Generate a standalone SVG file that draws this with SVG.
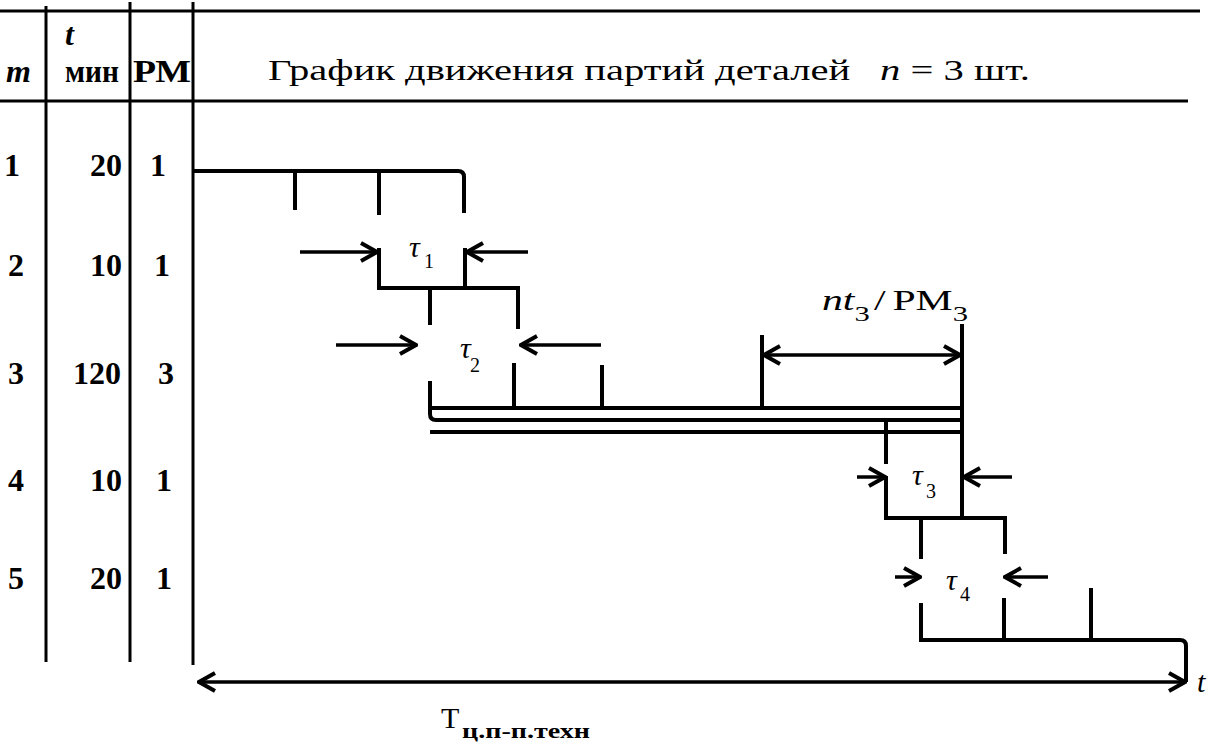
<svg xmlns="http://www.w3.org/2000/svg" width="1211" height="743" viewBox="0 0 1211 743">
<style>
.ln{fill:none;stroke:#000;stroke-width:4;stroke-linecap:square}
.tl{fill:none;stroke:#000;stroke-width:3}
.ar{fill:none;stroke:#000;stroke-width:3.5}
.num{font-family:"Liberation Serif",serif;font-weight:bold;font-size:32px;fill:#000}
.tx{font-family:"Liberation Serif",serif;font-size:30px;fill:#000}
.it{font-style:italic}
.sub{font-family:"Liberation Serif",serif;font-size:20px;fill:#000}
</style>
<defs>
<marker id="ah" viewBox="0 0 22 22" refX="20" refY="11" markerWidth="22" markerHeight="22" markerUnits="userSpaceOnUse" orient="auto-start-reverse">
<path d="M4,2 L20,11 L4,20" fill="none" stroke="#000" stroke-width="4" stroke-linejoin="miter"/>
</marker>
</defs>
<rect width="1211" height="743" fill="#fff"/>
<g id="table">
<path class="tl" d="M0,11 H1200 M0,101 H1188"/>
<path class="tl" d="M46,6 V662 M130,2 V662 M193,2 V665"/>
<text class="num it" x="6" y="82" font-size="32">m</text>
<text class="num it" x="65" y="45" font-size="30">t</text>
<text class="num" x="65" y="82" font-size="24" textLength="54" lengthAdjust="spacingAndGlyphs">мин</text>
<text class="num" x="133" y="82" font-size="26" textLength="58" lengthAdjust="spacingAndGlyphs">РМ</text>
<text class="tx" x="268" y="80" font-size="33" textLength="762" lengthAdjust="spacingAndGlyphs">График движения партий деталей<tspan class="it" dx="22">n</tspan> = 3 шт.</text>
</g>
<g id="rows" class="num">
<text x="12" y="176" text-anchor="middle">1</text>
<text x="122" y="176" text-anchor="end">20</text>
<text x="158" y="176" text-anchor="middle">1</text>
<text x="16" y="276" text-anchor="middle">2</text>
<text x="122" y="276" text-anchor="end">10</text>
<text x="162" y="276" text-anchor="middle">1</text>
<text x="16" y="384" text-anchor="middle">3</text>
<text x="121" y="384" text-anchor="end">120</text>
<text x="166" y="384" text-anchor="middle">3</text>
<text x="16" y="491" text-anchor="middle">4</text>
<text x="122" y="491" text-anchor="end">10</text>
<text x="164" y="491" text-anchor="middle">1</text>
<text x="16" y="589" text-anchor="middle">5</text>
<text x="122" y="589" text-anchor="end">20</text>
<text x="164" y="589" text-anchor="middle">1</text>
</g>
<g id="op1">
<path class="ln" d="M195,171 H458 Q464,171 464,177 V211"/>
<path class="ln" d="M295,171 V208 M379,171 V213"/>
</g>
<g id="op2">
<path class="ln" d="M379,250 V288 H518 V327"/>
<path class="ln" d="M465,250 V288 M430,288 V323"/>
</g>
<g id="op3">
<path class="ln" d="M430,383 V414 Q430,420 436,420 H962"/>
<path class="ln" d="M430,408 H962 M432,432 H962"/>
<path class="ln" d="M514,365 V408 M602,367 V408 M762,337 V408 M962,326 V518"/>
</g>
<g id="op4">
<path class="ln" d="M886,420 V462"/>
<path class="ln" d="M886,478 V518 H1005 V552 M921,518 V557"/>
</g>
<g id="op5">
<path class="ln" d="M921,605 V640 H1180 Q1186,640 1186,646 V680"/>
<path class="ln" d="M1004,600 V640 M1091,590 V640"/>
</g>
<g id="connectors">
<path class="ar" d="M300,252 H377" marker-end="url(#ah)"/>
<path class="ar" d="M528,252 H467" marker-end="url(#ah)"/>
<path class="ar" d="M336,345 H416" marker-end="url(#ah)"/>
<path class="ar" d="M601,345 H521" marker-end="url(#ah)"/>
<path class="ar" d="M764,355 H960" marker-start="url(#ah)" marker-end="url(#ah)"/>
<path class="ar" d="M857,477 H885" marker-end="url(#ah)"/>
<path class="ar" d="M1012,477 H964" marker-end="url(#ah)"/>
<path class="ar" d="M895,577 H920" marker-end="url(#ah)"/>
<path class="ar" d="M1048,577 H1005" marker-end="url(#ah)"/>
<path class="ar" d="M199,682 H1185" marker-start="url(#ah)" marker-end="url(#ah)"/>
</g>
<g id="labels">
<text class="tx it" x="409" y="257" font-size="30">τ</text><text class="sub" x="424" y="268">1</text>
<text class="tx it" x="460" y="358" font-size="30">τ</text><text class="sub" x="470" y="372">2</text>
<text class="tx it" x="912" y="485" font-size="30">τ</text><text class="sub" x="926" y="498">3</text>
<text class="tx it" x="946" y="590" font-size="30">τ</text><text class="sub" x="960" y="601">4</text>
<text class="tx" x="822" y="310" font-size="34" textLength="146" lengthAdjust="spacingAndGlyphs"><tspan class="it">nt</tspan><tspan font-size="22" dy="11">3</tspan><tspan dy="-11" dx="3">/</tspan><tspan dx="5">PM</tspan><tspan font-size="22" dy="11">3</tspan></text>
<text class="tx it" x="1197" y="692">t</text>
<text class="tx" x="441" y="728" font-size="32">T</text>
<text class="sub" x="462" y="738" font-size="18" font-weight="bold" textLength="128" lengthAdjust="spacingAndGlyphs">ц.п-п.техн</text>
</g>
</svg>
